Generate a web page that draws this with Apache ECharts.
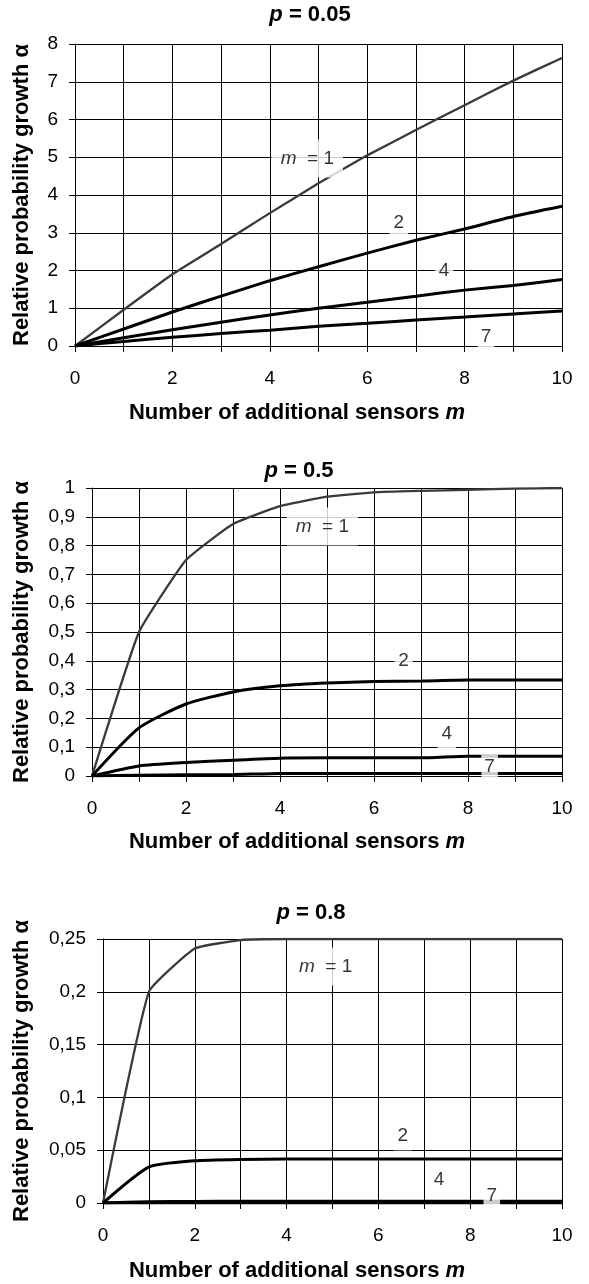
<!DOCTYPE html>
<html><head><meta charset="utf-8">
<script src="https://cdn.jsdelivr.net/npm/echarts@6/dist/echarts.min.js"></script>
<style>html,body{margin:0;padding:0;background:#fff}#c{width:589px;height:1284px}</style>
</head><body><div id="c"></div>
<script>
// x values (number of additional sensors)
const xValues = [0, 1, 2, 3, 4, 5, 6, 7, 8, 9, 10];

// p = 0.05
const p005_m1 = [0, 0.96, 1.90, 2.70, 3.52, 4.31, 5.05, 5.72, 6.38, 7.03, 7.63];
const p005_m2 = [0, 0.45, 0.90, 1.32, 1.73, 2.10, 2.46, 2.80, 3.10, 3.43, 3.70];
const p005_m4 = [0, 0.22, 0.43, 0.63, 0.82, 1.00, 1.16, 1.32, 1.48, 1.60, 1.76];
const p005_m7 = [0, 0.12, 0.23, 0.33, 0.42, 0.52, 0.60, 0.69, 0.77, 0.85, 0.93];

// p = 0.5
const p05_m1 = [0, 0.50, 0.75, 0.875, 0.937, 0.970, 0.985, 0.990, 0.994, 0.998, 1.0];
const p05_m2 = [0, 0.167, 0.25, 0.292, 0.313, 0.323, 0.328, 0.330, 0.333, 0.333, 0.333];
const p05_m4 = [0, 0.035, 0.047, 0.055, 0.062, 0.063, 0.063, 0.063, 0.069, 0.069, 0.069];
const p05_m7 = [0, 0.003, 0.004, 0.005, 0.009, 0.009, 0.009, 0.009, 0.009, 0.009, 0.009];

// p = 0.8
const p08_m1 = [0, 0.20, 0.241, 0.249, 0.250, 0.250, 0.250, 0.250, 0.250, 0.250, 0.250];
const p08_m2 = [0, 0.034, 0.040, 0.0413, 0.0416, 0.0416, 0.0416, 0.0416, 0.0416, 0.0416, 0.0416];
const p08_m4 = [0, 0.0013, 0.0015, 0.0016, 0.0016, 0.0016, 0.0016, 0.0016, 0.0016, 0.0016, 0.0016];
const p08_m7 = [0, 0.00001, 0.00001, 0.00001, 0.00001, 0.00001, 0.00001, 0.00001, 0.00001, 0.00001, 0.00001];

const seriesNames = ['m = 1', '2', '4', '7'];
const titles = ['p = 0.05', 'p = 0.5', 'p = 0.8'];
const yMax = [8, 1, 0.25];
const yStep = [1, 0.1, 0.05];

// curve label annotations [x, y, text]
const labels005 = [[4.77, 4.97, 'm = 1'], [6.65, 3.26, '2'], [7.58, 1.98, '4'], [8.44, 0.25, '7']];
const labels05 = [[4.9, 0.866, 'm = 1'], [6.63, 0.40, '2'], [7.55, 0.146, '4'], [8.46, 0.033, '7']];
const labels08 = [[4.85, 0.224, 'm = 1'], [6.53, 0.064, '2'], [7.32, 0.022, '4'], [8.47, 0.0065, '7']];

const panelData = [
  [p005_m1, p005_m2, p005_m4, p005_m7],
  [p05_m1, p05_m2, p05_m4, p05_m7],
  [p08_m1, p08_m2, p08_m4, p08_m7]
];
const panelLabels = [labels005, labels05, labels08];

const FONT = 'Liberation Sans, Arial, sans-serif';
const grids = [
  {left: 75, top: 44, width: 487, height: 302},
  {left: 92, top: 488, width: 470, height: 288},
  {left: 103, top: 939, width: 459, height: 264}
];
const titleTops = [4, 460, 902];
const titleCenters = [310, 299, 311];
const yNameGaps = [42, 59, 70];
const xNameGaps = [56, 55, 57];
const NAME_CENTER = 297;

const option = {
  animation: false,
  backgroundColor: '#fff',
  title: titles.map((t, i) => ({
    text: '{i|p}' + t.slice(1),
    left: titleCenters[i], top: titleTops[i], textAlign: 'center', padding: 0,
    textStyle: {fontSize: 22, fontWeight: 'bold', color: '#000', fontFamily: FONT,
      rich: {i: {fontStyle: 'italic', fontWeight: 'bold', fontSize: 22, color: '#000', fontFamily: FONT}}}
  })),
  grid: grids.map(g => Object.assign({containLabel: false}, g)),
  xAxis: grids.map((g, i) => {
    const shift = (g.left + g.width / 2) - NAME_CENTER;
    return {
      type: 'value', gridIndex: i, min: 0, max: 10, interval: 1,
      name: 'Number of additional sensors {i|m}', nameLocation: 'middle', nameGap: xNameGaps[i],
      nameTextStyle: {fontSize: 22, fontWeight: 'bold', color: '#000', fontFamily: FONT,
        padding: [0, 2 * shift, 0, 0],
        rich: {i: {fontStyle: 'italic', fontWeight: 'bold', fontSize: 22, color: '#000', fontFamily: FONT}}},
      axisLine: {show: true, onZero: false, lineStyle: {color: '#000', width: 1}},
      axisTick: {show: true, length: 6, lineStyle: {color: '#000'}},
      axisLabel: {margin: 23, fontSize: 19, color: '#000', fontFamily: FONT,
        formatter: v => (Math.round(v) % 2 === 0 ? String(Math.round(v)) : '')},
      splitLine: {show: true, lineStyle: {color: '#000', width: 1}}
    };
  }),
  yAxis: grids.map((g, i) => ({
    type: 'value', gridIndex: i, min: 0, max: yMax[i], interval: yStep[i],
    name: 'Relative probability growth α', nameLocation: 'middle', nameGap: yNameGaps[i],
    nameTextStyle: {fontSize: 22, fontWeight: 'bold', color: '#000', fontFamily: FONT},
    axisLine: {show: true, lineStyle: {color: '#000', width: 1}},
    axisTick: {show: true, length: 6, lineStyle: {color: '#000'}},
    axisLabel: {margin: 17, fontSize: 19, color: '#000', fontFamily: FONT,
      formatter: v => String(+(+v).toFixed(4)).replace('.', ',')},
    splitLine: {show: true, lineStyle: {color: '#000', width: 1}}
  })),
  series: []
};

panelData.forEach((arrs, pi) => {
  arrs.forEach((arr, si) => {
    option.series.push({
      type: 'line', name: seriesNames[si], xAxisIndex: pi, yAxisIndex: pi,
      data: xValues.map((x, k) => [x, arr[k]]),
      symbol: 'none', smooth: si === 0 ? 0.12 : 0.2, silent: true, z: 2,
      lineStyle: si === 0 ? {color: '#3a3a3a', width: 2.3} : {color: '#000', width: 3}
    });
  });
  option.series.push({
    type: 'scatter', xAxisIndex: pi, yAxisIndex: pi, silent: true, z: 6,
    symbol: 'rect', symbolSize: 1, itemStyle: {color: 'rgba(0,0,0,0)'},
    data: panelLabels[pi].map(l => {
      const d = {value: [l[0], l[1]], name: l[2]};
      if (l[2] === 'm = 1') d.label = {padding: [8, 9]};
      else if (l[2] === '7') d.label = {padding: [1, 3]};
      return d;
    }),
    label: {
      show: true, position: 'inside', color: '#000', fontSize: 19, fontFamily: FONT,
      lineHeight: 22, backgroundColor: '#fff',
      formatter: p => (p.name === 'm = 1' ? '{i|m}{n|  = 1}' : '{n|' + p.name + '}'),
      rich: {
        i: {fontStyle: 'italic', fontSize: 19, fontFamily: FONT, color: '#000', lineHeight: 22},
        n: {fontSize: 19, fontFamily: FONT, color: '#000', lineHeight: 22}
      },
      padding: [4, 4]
    }
  });
});

const chart = echarts.init(document.getElementById('c'), null, {renderer: 'canvas'});
chart.setOption(option);
</script>
</body></html>
